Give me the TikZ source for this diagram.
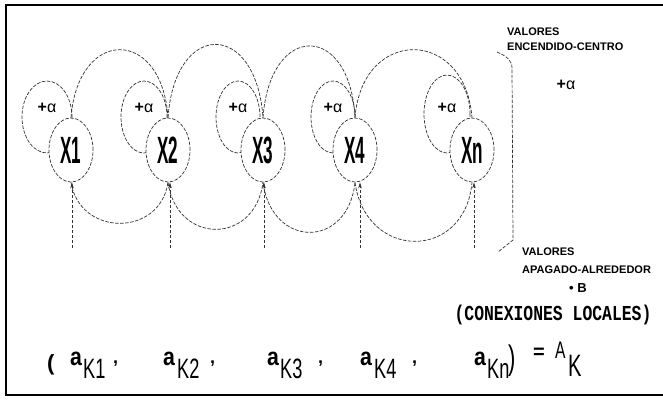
\documentclass[tikz,border=0pt]{standalone}
\usepackage{fontspec}
\setmainfont{Liberation Sans}
\usetikzlibrary{shapes.geometric,arrows.meta}
\newfontfamily\fxn[FakeStretch=0.45]{Liberation Sans}
\newfontfamily\fsub[FakeStretch=0.65]{Liberation Sans}
\newfontfamily\fbase[FakeStretch=0.85]{Liberation Sans}
\newfontfamily\fmono{Liberation Mono}
\begin{document}
\begin{tikzpicture}[x=1pt,y=-1pt,
  dl/.style={dash pattern=on 3.5pt off 1.5pt, line width=0.7pt, draw=black!80},
  unit/.style={ellipse, dl, fill=white, minimum width=44pt, minimum height=64pt, inner sep=0pt, font=\fxn\bfseries\fontsize{38}{38}\selectfont},
  alab/.style={font=\fontsize{16}{16}\selectfont, inner sep=0pt},
  arr/.style={dl, -{Stealth[length=6pt,width=3.5pt]}},
  tag/.style={font=\bfseries\fontsize{11}{11}\selectfont, anchor=base west, inner sep=0pt},
  fm/.style={anchor=base west, inner sep=0pt},
  abase/.style={fm, font=\fbase\bfseries\fontsize{25}{25}\selectfont},
  asub/.style={fm, font=\fsub\fontsize{28}{28}\selectfont},
  acom/.style={fm, font=\bfseries\fontsize{18}{18}\selectfont}]
\useasboundingbox (0,0) rectangle (663,399);
% frame
\draw[line width=2pt] (663,5) -- (6,5) -- (6,395) -- (663,395);
% self loops
\draw[dl] (47,117) ellipse [x radius=25pt, y radius=36pt];
\draw[dl] (144,117) ellipse [x radius=23pt, y radius=36pt];
\draw[dl] (238,117) ellipse [x radius=22pt, y radius=36pt];
\draw[dl] (333,117) ellipse [x radius=22pt, y radius=36pt];
\draw[dl] (447,114) ellipse [x radius=23pt, y radius=39pt];
% units
\node[unit] (X1) at (71,150) {X1};
\node[unit] (X2) at (168,150) {X2};
\node[unit] (X3) at (263,150) {X3};
\node[unit] (X4) at (355,150) {X4};
\node[unit] (Xn) at (472,150) {Xn};
% loop labels
\node[alab] (l1) at (47,108) {{\bfseries+}α};
\node[alab] (l2) at (144,108) {{\bfseries+}α};
\node[alab] (l3) at (238,108) {{\bfseries+}α};
\node[alab] (l4) at (333,108) {{\bfseries+}α};
\node[alab] (l5) at (447,108) {{\bfseries+}α};
% top arcs
\draw[dl] (X1.north) .. controls (78,27) and (162,27) .. (X2.north);
\draw[dl] (X2.north) .. controls (175,20) and (256,20) .. (X3.north);
\draw[dl] (X3.north) .. controls (270,22) and (350,22) .. (X4.north);
\draw[dl] (X4.north) .. controls (362,27) and (465,27) .. (Xn.north);
% bottom arcs
\draw[dl] (X1.south) .. controls (80,237) and (160,237) .. (X2.south);
\draw[dl] (X2.south) .. controls (177,245) and (255,245) .. (X3.south);
\draw[dl] (X3.south) .. controls (272,249) and (348,249) .. (X4.south);
\draw[dl] (X4.south) .. controls (366,261) and (465,261) .. (Xn.south);
% inputs
\coordinate (b1) at (72,248);
\coordinate (b2) at (170,248);
\coordinate (b3) at (264,248);
\coordinate (b4) at (360,248);
\coordinate (b5) at (474,248);
\draw[arr] (b1) -- (b1 |- X1.south);
\draw[arr] (b2) -- (b2 |- X2.south);
\draw[arr] (b3) -- (b3 |- X3.south);
\draw[arr] (b4) -- (b4 |- X4.south);
\draw[arr] (b5) -- (b5 |- Xn.south);
% bracket
\coordinate (bt) at (497,52);
\coordinate (bb) at (498,252);
\draw[dl] (bt) .. controls (506,56) and (512,60) .. (512,68) -- (513,240) -- (bb);
% right texts
\node[tag] (v1) at (507,35) {VALORES};
\node[tag] (e1) at (507,50) {ENCENDIDO-CENTRO};
\node[alab] (pa) at (566,85) {{\bfseries+}α};
\node[tag] (v2) at (522,255) {VALORES};
\node[tag] (e2) at (522,273) {APAGADO-ALREDEDOR};
\node[tag, font=\bfseries\fontsize{13}{13}\selectfont] (mb) at (569,292) {• B};
\node[inner sep=0pt, font=\fmono\bfseries\fontsize{16.4}{16}\selectfont] (cl) at (553,315) {\scalebox{1}[1.3]{(CONEXIONES LOCALES)}};
% formula
\node[fm, font=\bfseries\fontsize{22}{22}\selectfont] (p0) at (47,370) {(};
\node[abase] (a1) at (70,365) {a};
\node[asub] (k1) at (83,378) {K1};
\node[acom] (c1) at (113,363) {,};
\node[abase] (a2) at (163,365) {a};
\node[asub] (k2) at (177,378) {K2};
\node[acom] (c2) at (210,363) {,};
\node[abase] (a3) at (267,365) {a};
\node[asub] (k3) at (280,378) {K3};
\node[acom] (c3) at (318,363) {,};
\node[abase] (a4) at (360,365) {a};
\node[asub] (k4) at (374,378) {K4};
\node[acom] (c4) at (412,363) {,};
\node[abase] (a5) at (474,365) {a};
\node[asub] (k5) at (487,378) {Kn};
\node[fm, font=\fsub\fontsize{34}{34}\selectfont] (p1) at (508,369) {)};
\node[fm, font=\bfseries\fontsize{20}{20}\selectfont] (eq) at (533,358) {=};
\node[fm, font=\fsub\fontsize{24}{24}\selectfont] (AA) at (555,358) {A};
\node[fm, font=\fsub\fontsize{31}{31}\selectfont] (AK) at (568,376) {K};
\end{tikzpicture}
\end{document}
